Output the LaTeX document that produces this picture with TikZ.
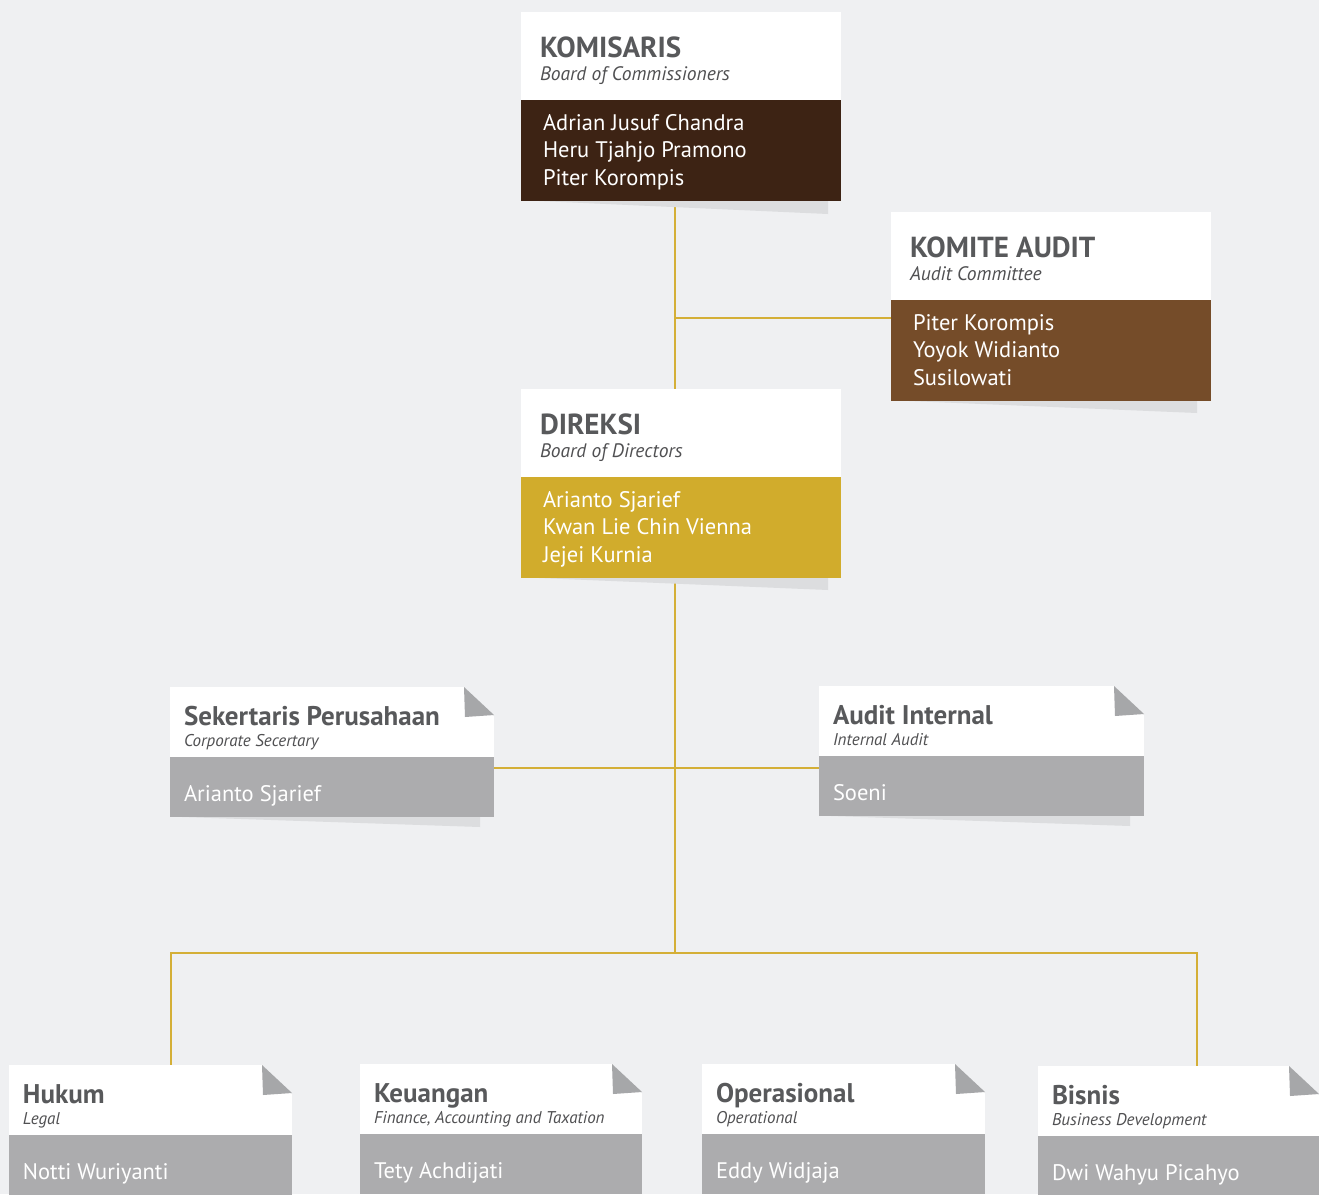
\documentclass[tikz,border=0pt]{standalone}
\usepackage{fontspec}
\setmainfont{PT Sans}
\usetikzlibrary{positioning}
\usetikzlibrary{calc}
\usetikzlibrary{backgrounds}
\definecolor{bgcol}{HTML}{EFF0F2}
\definecolor{komcol}{HTML}{3D2314}
\definecolor{kmtcol}{HTML}{754C29}
\definecolor{dircol}{HTML}{D1AC2C}
\definecolor{linecol}{HTML}{D4AF37}
\definecolor{unitcol}{HTML}{ACACAE}
\definecolor{foldcol}{HTML}{A6A7A9}
\definecolor{shadecol}{HTML}{DCDDDF}
\definecolor{titlecol}{HTML}{58595B}
\definecolor{subcol}{HTML}{505052}
\tikzset{every picture/.style={line width=2.6pt}}

\begin{document}
\begin{tikzpicture}[x=1pt,y=-1pt,
  every node/.style={outer sep=0pt, inner sep=0pt},
  head/.style={anchor=north west, fill=white, minimum width=320pt, minimum height=88pt},
  body/.style={anchor=north west, fill=#1, minimum width=320pt, minimum height=101pt},
  title/.style={anchor=base west, text=titlecol, font=\fontsize{29}{32}\selectfont\bfseries},
  sub/.style={anchor=base west, text=subcol, font=\fontsize{19.5}{23}\selectfont\itshape},
  who/.style={anchor=base west, text=white, font=\fontsize{22.5}{27}\selectfont},
  utitle/.style={anchor=base west, text=titlecol, font=\fontsize{27}{30}\selectfont\bfseries},
  usub/.style={anchor=base west, text=subcol, font=\fontsize{17}{20}\selectfont\itshape},
  link/.style={draw=linecol, line width=2.6pt}]
\useasboundingbox (0,0) rectangle (1319,1194);

% board of commissioners
\node (kom) at (521,12) [head] {};
\node (komN) at (kom.south west) [body=komcol] {};
\node (komT) at ($(kom.north west)+(19,45)$) [title] {KOMISARIS};
\node (komS) at ($(kom.north west)+(19,68)$) [sub] {Board of Commissioners};
\foreach \n [count=\i] in {Adrian Jusuf Chandra, Heru Tjahjo Pramono, Piter Korompis}
  \node (komW\i) at ($(komN.north west)+(22,2.5+27.5*\i)$) [who] {\n};
\fill[shadecol] ($(komN.south west)+(18,0)$) -- ($(komN.south east)+(-13,0)$) -- ($(komN.south east)+(-13,13)$) -- cycle;

% audit committee
\node (kmt) at (891,212) [head] {};
\node (kmtN) at (kmt.south west) [body=kmtcol] {};
\node (kmtT) at ($(kmt.north west)+(19,45)$) [title] {KOMITE AUDIT};
\node (kmtS) at ($(kmt.north west)+(19,68)$) [sub] {Audit Committee};
\foreach \n [count=\i] in {Piter Korompis, Yoyok Widianto, Susilowati}
  \node (kmtW\i) at ($(kmtN.north west)+(22,2.5+27.5*\i)$) [who] {\n};
\fill[shadecol] ($(kmtN.south west)+(18,0)$) -- ($(kmtN.south east)+(-14,0)$) -- ($(kmtN.south east)+(-14,12)$) -- cycle;

% board of directors
\node (dir) at (521,389) [head] {};
\node (dirN) at (dir.south west) [body=dircol] {};
\node (dirT) at ($(dir.north west)+(19,45)$) [title] {DIREKSI};
\node (dirS) at ($(dir.north west)+(19,68)$) [sub] {Board of Directors};
\foreach \n [count=\i] in {Arianto Sjarief, Kwan Lie Chin Vienna, Jejei Kurnia}
  \node (dirW\i) at ($(dirN.north west)+(22,2.5+27.5*\i)$) [who] {\n};
\fill[shadecol] ($(dirN.south west)+(18,0)$) -- ($(dirN.south east)+(-13,0)$) -- ($(dirN.south east)+(-13,12)$) -- cycle;

% staff units
\foreach \key/\x/\y/\w/\t/\s/\p in {
    sek/170/687/324/Sekertaris Perusahaan/Corporate Secertary/Arianto Sjarief,
    ain/819/686/325/Audit Internal/Internal Audit/Soeni,
    huk/9/1065/283/Hukum/Legal/Notti Wuriyanti,
    kua/360/1064/282/Keuangan/{Finance, Accounting and Taxation}/Tety Achdijati,
    ops/702/1064/283/Operasional/Operational/Eddy Widjaja,
    bis/1038/1066/281/Bisnis/Business Development/Dwi Wahyu Picahyo} {
  \node (\key) at (\x,\y) [head, minimum width=\w pt, minimum height=70pt] {};
  \node (\key N) at (\key.south west) [body=unitcol, minimum width=\w pt, minimum height=60pt] {};
  \fill[bgcol] ($(\key.north east)+(-30,0)$) -- (\key.north east) -- ($(\key.north east)+(0,29)$) -- cycle;
  \fill[foldcol] ($(\key.north east)+(-30,0)$) -- ($(\key.north east)+(0,28)$) -- ($(\key.north east)+(-29,30)$) -- cycle;
  \node (\key T) at ($(\key.north west)+(14,38)$) [utitle] {\t};
  \node (\key S) at ($(\key.north west)+(14,59)$) [usub] {\s};
  \node (\key W) at ($(\key N.north west)+(14,44)$) [who] {\p};
}
\fill[shadecol] ($(sekN.south west)+(12,0)$) -- ($(sekN.south east)+(-14,0)$) -- ($(sekN.south east)+(-14,10)$) -- cycle;
\fill[shadecol] ($(ainN.south west)+(12,0)$) -- ($(ainN.south east)+(-14,0)$) -- ($(ainN.south east)+(-14,10)$) -- cycle;

% connectors
\begin{scope}[on background layer]
\fill[bgcol] (0,0) rectangle (1319,1194);
\coordinate (trunk) at (675,0);
\coordinate (jk) at (675,318);
\coordinate (js) at (675,768);
\coordinate (bar) at (675,953);
\draw[link] (komN.south -| trunk) -- (dir.north -| trunk);
\draw[link] (jk) -- (jk -| kmtN.west);
\draw[link] (dirN.south -| trunk) -- (bar);
\draw[link] (sekN.east |- js) -- (ainN.west |- js);
\draw[link] ($(huk.north)+(20.5,0)$) |- (bar) -| ($(bis.north)+(18.5,0)$);
\draw[link] ($(kua.north)+(21,0)$) -- ($(kua.north)+(21,0)$ |- bar);
\draw[link] ($(ops.north)+(20.5,0)$) -- ($(ops.north)+(20.5,0)$ |- bar);
\end{scope}
\end{tikzpicture}
\end{document}
